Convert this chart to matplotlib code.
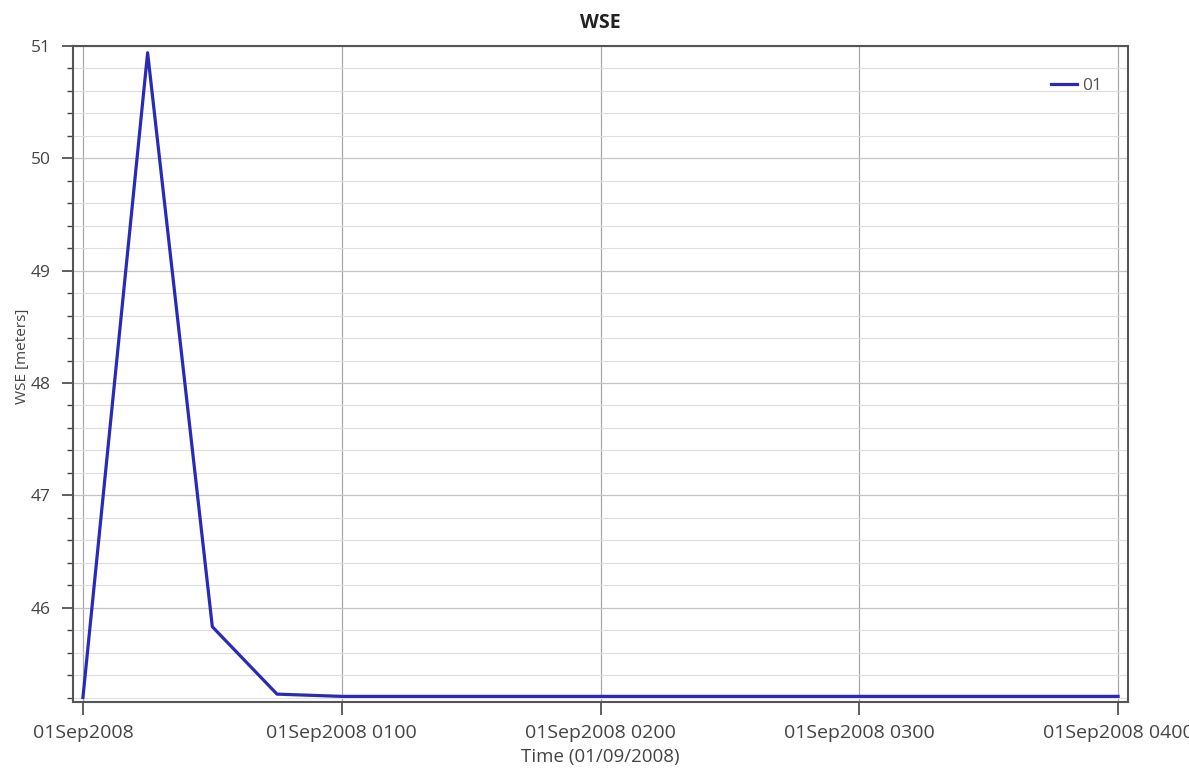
import datetime as dt
import matplotlib
matplotlib.use('Agg')
import matplotlib.pyplot as plt
import matplotlib.dates as mdates
from matplotlib.ticker import MultipleLocator, FuncFormatter

plt.rcParams['font.family'] = ['Open Sans', 'DejaVu Sans']

# 15 minute output, 01Sep2008 0000 - 0400
minutes = [0, 15, 30, 45, 60, 75, 90, 105, 120, 135, 150, 165, 180, 195, 210, 225, 240]
wse = [45.20, 50.94, 45.83, 45.23, 45.21, 45.21, 45.21, 45.21, 45.21,
       45.21, 45.21, 45.21, 45.21, 45.21, 45.21, 45.21, 45.21]
series_name = '01'

start = dt.datetime(2008, 9, 1, 0, 0)
times = [start + dt.timedelta(minutes=m) for m in minutes]

fig = plt.figure(figsize=(11.89, 7.71), dpi=100)
ax = fig.add_axes([0.0614, 0.0895, 0.8873, 0.8508])

ax.plot(times, wse, color='#2a2ab8', linewidth=2.3, label=series_name)

ax.set_xlim(start - dt.timedelta(minutes=2.3), start + dt.timedelta(minutes=242.3))
ax.set_ylim(45.16, 51.0)

ax.xaxis.set_major_locator(mdates.HourLocator())
def fmt_time(x, pos):
    d = mdates.num2date(x)
    if d.hour == 0 and d.minute == 0:
        return d.strftime('%d%b%Y')
    return d.strftime('%d%b%Y %H%M')
ax.xaxis.set_major_formatter(FuncFormatter(fmt_time))

ax.yaxis.set_major_locator(MultipleLocator(1))
ax.yaxis.set_minor_locator(MultipleLocator(0.2))

ax.grid(True, which='major', axis='x', color='#a8a8a8', linewidth=0.9)
ax.grid(True, which='major', axis='y', color='#c4c4c4', linewidth=0.9)
ax.grid(True, which='minor', axis='y', color='#dedede', linewidth=0.8)

ax.tick_params(axis='x', which='major', direction='out', length=9, width=1.2,
               color='#444444', labelsize=14, labelcolor='#444444', pad=7)
ax.tick_params(axis='y', which='major', direction='out', length=8, width=1.2,
               color='#444444', labelsize=12.5, labelcolor='#444444', pad=8)
ax.tick_params(axis='y', which='minor', direction='out', length=4.5, width=1.0, color='#444444')

for s in ax.spines.values():
    s.set_color('#555555')
    s.set_linewidth(1.5)

ax.set_title('WSE', fontsize=14, fontweight='bold', color='#222222', pad=13)
ax.set_ylabel('WSE [meters]', fontsize=11, color='#444444')
ax.yaxis.set_label_coords(-0.041, 0.527)
ax.set_xlabel('Time (01/09/2008)', fontsize=13.5, color='#444444', labelpad=4)

ax.legend(loc='upper right', frameon=False, handlelength=1.5, handletextpad=0.3,
          fontsize=12.5, labelcolor='#555555', bbox_to_anchor=(0.99, 0.975))

fig.savefig('out.png', dpi=100)
